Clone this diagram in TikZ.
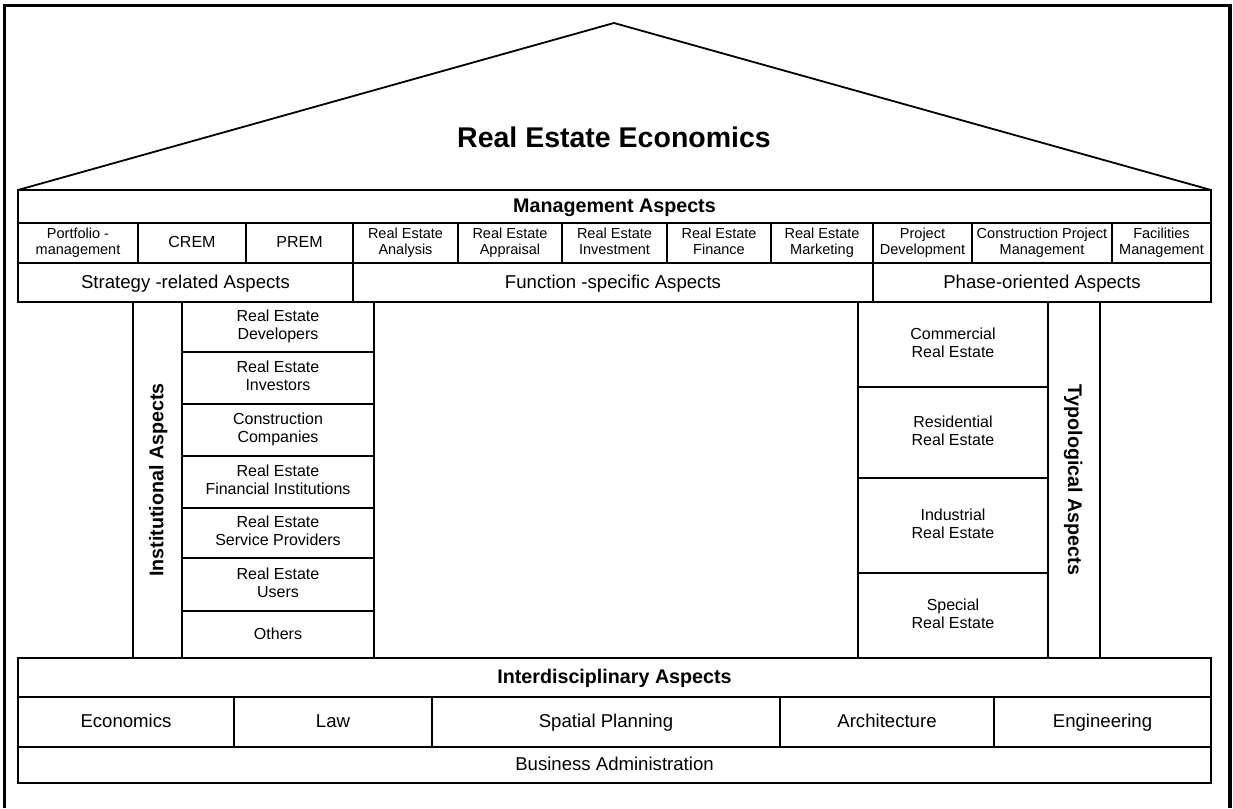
\documentclass[tikz,border=0pt]{standalone}
\usepackage{fontspec}
\setmainfont{Liberation Sans}

% invisible strut that centres the capitals on the node centre
\newcommand\capstrut{\rule[-0.25em]{0pt}{1.1em}}

% rectangular cell given by its corners: [style]{name}{x1}{y1}{x2}{y2}{text}
\newcommand\cellbox[7][]{%
  \pgfmathsetmacro\cbx{(#3+#5)/2}%
  \pgfmathsetmacro\cby{(#4+#6)/2}%
  \pgfmathsetmacro\cbw{#5-#3}%
  \pgfmathsetmacro\cbh{#6-#4}%
  \node[cell,minimum width=\cbw pt,minimum height=\cbh pt,#1] (#2) at (\cbx,\cby) {#7};}

\begin{document}
\begin{tikzpicture}[x=1pt,y=-1pt,
  cell/.style={draw,line width=1.8pt,inner sep=0pt,outer sep=0pt,align=center,
    execute at begin node=\capstrut,execute at end node=\capstrut},
  small/.style={font=\fontsize{14.5}{15.5}\selectfont},
  mid/.style={font=\fontsize{16}{17.8}\selectfont},
  big/.style={font=\fontsize{18.6}{22}\selectfont},
  head/.style={font=\bfseries\fontsize{19.7}{22}\selectfont},
  ]
\useasboundingbox (0,0) rectangle (1233,808);

% outer frame
\draw[line width=3.5pt] (4.5,808) -- (4.5,5.5) -- (1230,5.5) -- (1230,808);

% roof with title
\coordinate (roofL) at (18,190);
\coordinate (apex) at (614,23);
\coordinate (roofR) at (1211,190);
\draw[line width=1.8pt,line join=miter] (roofL) -- (apex) -- (roofR);
\node[font=\bfseries\fontsize{28.5}{30}\selectfont] (title) at (614,137) {Real Estate Economics};

% management aspects
\cellbox[head]{mgmt}{18}{190}{1211}{223}{Management Aspects}
\cellbox[small]{pf}{18}{223}{138}{263}{Portfolio -\\management}
\cellbox[mid]{crem}{138}{223}{246}{263}{CREM}
\cellbox[mid]{prem}{246}{223}{353}{263}{PREM}
\cellbox[small]{rea}{353}{223}{458}{263}{Real Estate\\Analysis}
\cellbox[small]{reap}{458}{223}{562}{263}{Real Estate\\Appraisal}
\cellbox[small]{rei}{562}{223}{667}{263}{Real Estate\\Investment}
\cellbox[small]{ref}{667}{223}{771}{263}{Real Estate\\Finance}
\cellbox[small]{rem}{771}{223}{873}{263}{Real Estate\\Marketing}
\cellbox[small]{pd}{873}{223}{972}{263}{Project\\Development}
\cellbox[small]{cpm}{972}{223}{1112}{263}{Construction Project\\Management}
\cellbox[small]{fm}{1112}{223}{1211}{263}{Facilities\\Management}

\cellbox[big]{strat}{18}{263}{353}{302}{Strategy -related Aspects}
\cellbox[big]{func}{353}{263}{873}{302}{Function -specific Aspects}
\cellbox[big]{phase}{873}{263}{1211}{302}{Phase-oriented Aspects}

% institutional pillar
\node[cell,head,rotate=90,minimum width=356pt,minimum height=49pt] (inst) at (157.5,480) {Institutional Aspects};
\cellbox[mid]{dev}{182}{302}{374}{352}{Real Estate\\Developers}
\cellbox[mid]{inv}{182}{352}{374}{404}{Real Estate\\Investors}
\cellbox[mid]{cons}{182}{404}{374}{456}{Construction\\Companies}
\cellbox[mid]{fin}{182}{456}{374}{508}{Real Estate\\Financial Institutions}
\cellbox[mid]{serv}{182}{508}{374}{558}{Real Estate\\Service Providers}
\cellbox[mid]{users}{182}{558}{374}{611}{Real Estate\\Users}
\cellbox[mid]{others}{182}{611}{374}{658}{Others}

% typological pillar
\cellbox[mid]{comm}{858}{302}{1048}{387}{Commercial\\Real Estate}
\cellbox[mid]{resi}{858}{387}{1048}{478}{Residential\\Real Estate}
\cellbox[mid]{indu}{858}{478}{1048}{573}{Industrial\\Real Estate}
\cellbox[mid]{spec}{858}{573}{1048}{658}{Special\\Real Estate}
\node[cell,head,rotate=-90,minimum width=356pt,minimum height=52pt] (typ) at (1074,480) {Typological Aspects};

% interdisciplinary foundation
\cellbox[head]{inter}{18}{658}{1211}{697}{Interdisciplinary Aspects}
\cellbox[big]{econ}{18}{697}{234}{747}{Economics}
\cellbox[big]{law}{234}{697}{432}{747}{Law}
\cellbox[big]{spat}{432}{697}{780}{747}{Spatial Planning}
\cellbox[big]{arch}{780}{697}{994}{747}{Architecture}
\cellbox[big]{eng}{994}{697}{1211}{747}{Engineering}
\cellbox[big]{busi}{18}{747}{1211}{783}{Business Administration}
\end{tikzpicture}
\end{document}
